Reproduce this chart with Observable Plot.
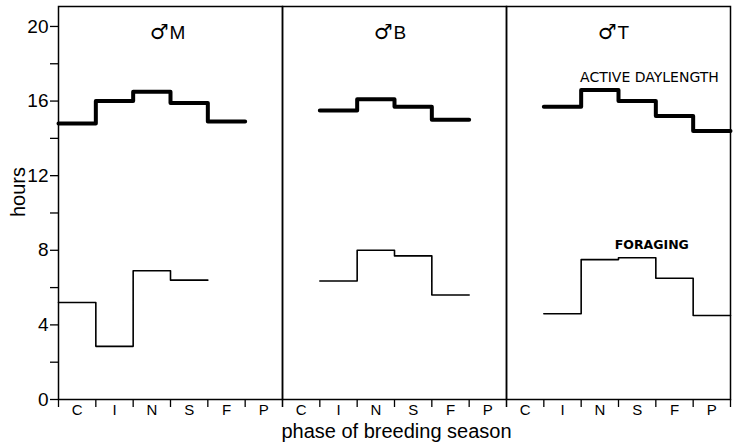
<!DOCTYPE html>
<html>
<head>
<meta charset="utf-8">
<script src="https://cdn.jsdelivr.net/npm/d3@7"></script>
<script src="https://cdn.jsdelivr.net/npm/@observablehq/plot@0.6"></script>
<style>
  html, body { margin: 0; padding: 0; background: white; }
</style>
</head>
<body>
<div id="chart"></div>
<script>
// Data
const phases = ["C", "I", "N", "S", "F", "P"];
const animals = ["M", "B", "T"];
const yTicks = [0, 2, 4, 6, 8, 10, 12, 14, 16, 18, 20];

// Active daylength (hours) per phase; null = no data
const activeM = [14.8, 16.0, 16.5, 15.9, 14.9, null];
const activeB = [null, 15.5, 16.1, 15.7, 15.0, null];
const activeT = [null, 15.7, 16.6, 16.0, 15.2, 14.4];

// Foraging (hours) per phase
const foragingM = [5.2, 2.85, 6.9, 6.4, null, null];
const foragingB = [null, 6.35, 8.0, 7.7, 5.6, null];
const foragingT = [null, 4.6, 7.5, 7.6, 6.5, 4.5];

function steps(animal, series, values) {
  const rows = [];
  values.forEach((v, i) => { if (v != null) rows.push({animal, series, x: i, v}); });
  const last = rows[rows.length - 1];
  rows.push({...last, x: last.x + 1});
  return rows;
}

const active = [
  ...steps("M", "active", activeM),
  ...steps("B", "active", activeB),
  ...steps("T", "active", activeT)
];
const foraging = [
  ...steps("M", "foraging", foragingM),
  ...steps("B", "foraging", foragingB),
  ...steps("T", "foraging", foragingT)
];

const font = "'Liberation Sans', Arial, Helvetica, sans-serif";

const chart = Plot.plot({
  width: 733,
  height: 447,
  marginLeft: 57,
  marginRight: 2,
  marginTop: 6,
  marginBottom: 48,
  style: {fontFamily: font, background: "white", color: "black"},
  fx: {domain: animals, padding: 0, axis: null},
  x: {domain: [0, 6]},
  y: {domain: [0, 21.07]},
  marks: [
    Plot.frame({stroke: "black", strokeWidth: 1.5}),
    Plot.axisY({ticks: yTicks, tickSize: 8, tickPadding: 2, strokeWidth: 1.3,
      tickFormat: d => (d % 4 === 0 ? d : null), fontSize: 19, label: null}),
    Plot.axisX({ticks: d3.range(0, 7), tickSize: 8, strokeWidth: 1.3, tickFormat: () => null, label: null}),
    Plot.axisX({ticks: phases.map((p, i) => i + 0.5), tickSize: 0, tickPadding: 5,
      tickFormat: t => phases[Math.floor(t)], fontSize: 15, label: null}),
    Plot.line(foraging, {x: "x", y: "v", fx: "animal", z: "series", curve: "step-after",
      stroke: "black", strokeWidth: 1.6}),
    Plot.line(active, {x: "x", y: "v", fx: "animal", z: "series", curve: "step-after",
      stroke: "black", strokeWidth: 4}),
    // panel titles: male sign + letter
    Plot.text(animals, {fx: d => d, text: () => "\u2642", frameAnchor: "top", lineAnchor: "middle",
      textAnchor: "end", dy: 26, dx: -2, fontSize: 21, fontFamily: "'DejaVu Sans'"}),
    Plot.text(animals, {fx: d => d, text: d => d, frameAnchor: "top", lineAnchor: "middle",
      textAnchor: "start", dy: 26, dx: -1, fontSize: 19}),
    Plot.text([{animal: "M", t: "hours"}], {fx: "animal", text: "t", frameAnchor: "left",
      lineAnchor: "middle", rotate: -90, dx: -40, dy: 14, fontSize: 20}),
    Plot.text([{animal: "B", t: "phase of breeding season"}], {fx: "animal", text: "t",
      frameAnchor: "bottom", lineAnchor: "middle", dy: 32, dx: 2, fontSize: 20}),
    Plot.text([{animal: "T", t: "ACTIVE DAYLENGTH", x: 1.97, y: 17.25}], {fx: "animal",
      x: "x", y: "y", text: "t", textAnchor: "start", fontFamily: "'DejaVu Sans'", fontSize: 14}),
    Plot.text([{animal: "T", t: "FORAGING", x: 2.9, y: 8.31}], {fx: "animal",
      x: "x", y: "y", text: "t", textAnchor: "start", fontFamily: "'DejaVu Sans'", fontSize: 12.5,
      fontWeight: "bold"})
  ]
});

document.getElementById("chart").appendChild(chart);
</script>
</body>
</html>
